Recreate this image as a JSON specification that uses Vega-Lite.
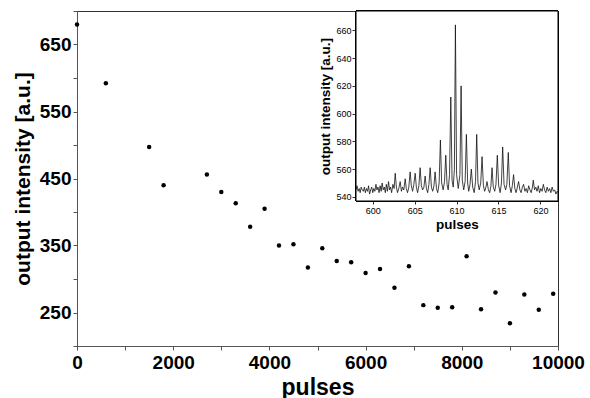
{
  "$schema": "https://vega.github.io/schema/vega-lite/v6.json",
  "width": 481,
  "height": 335,
  "autosize": {"type": "none"},
  "padding": {"left": 77, "top": 11, "right": 32, "bottom": 52},
  "background": "white",
  "config": {
    "view": {"stroke": "#333", "strokeWidth": 1},
    "font": "Liberation Sans"
  },
  "datasets": {
    "main": [
      {"pulses": 0, "intensity": 680},
      {"pulses": 600, "intensity": 592},
      {"pulses": 1500, "intensity": 497},
      {"pulses": 1800, "intensity": 440},
      {"pulses": 2700, "intensity": 456},
      {"pulses": 3000, "intensity": 430},
      {"pulses": 3300, "intensity": 413},
      {"pulses": 3600, "intensity": 378},
      {"pulses": 3900, "intensity": 405},
      {"pulses": 4200, "intensity": 350},
      {"pulses": 4500, "intensity": 352},
      {"pulses": 4800, "intensity": 317},
      {"pulses": 5100, "intensity": 346},
      {"pulses": 5400, "intensity": 327},
      {"pulses": 5700, "intensity": 325},
      {"pulses": 6000, "intensity": 309},
      {"pulses": 6300, "intensity": 315},
      {"pulses": 6600, "intensity": 287},
      {"pulses": 6900, "intensity": 319},
      {"pulses": 7200, "intensity": 261},
      {"pulses": 7500, "intensity": 257},
      {"pulses": 7800, "intensity": 258},
      {"pulses": 8100, "intensity": 334},
      {"pulses": 8400, "intensity": 255},
      {"pulses": 8700, "intensity": 280},
      {"pulses": 9000, "intensity": 234},
      {"pulses": 9300, "intensity": 277},
      {"pulses": 9600, "intensity": 254},
      {"pulses": 9900, "intensity": 278}
    ],
    "inset": [
      {"p": 598.0, "v": 545}, {"p": 598.12, "v": 548}, {"p": 598.25, "v": 544}, {"p": 598.38, "v": 546},
      {"p": 598.5, "v": 543}, {"p": 598.62, "v": 547}, {"p": 598.75, "v": 545}, {"p": 598.88, "v": 544},
      {"p": 599.0, "v": 547}, {"p": 599.12, "v": 543}, {"p": 599.25, "v": 546}, {"p": 599.38, "v": 544},
      {"p": 599.5, "v": 548}, {"p": 599.62, "v": 542}, {"p": 599.75, "v": 545}, {"p": 599.88, "v": 547},
      {"p": 600.0, "v": 543}, {"p": 600.12, "v": 546}, {"p": 600.25, "v": 544}, {"p": 600.38, "v": 549},
      {"p": 600.5, "v": 545}, {"p": 600.62, "v": 547}, {"p": 600.75, "v": 543}, {"p": 600.88, "v": 548},
      {"p": 601.0, "v": 544}, {"p": 601.12, "v": 550}, {"p": 601.25, "v": 545}, {"p": 601.38, "v": 547},
      {"p": 601.5, "v": 543}, {"p": 601.62, "v": 549}, {"p": 601.75, "v": 544}, {"p": 601.88, "v": 551},
      {"p": 602.0, "v": 545}, {"p": 602.12, "v": 547}, {"p": 602.25, "v": 543}, {"p": 602.4, "v": 549},
      {"p": 602.55, "v": 546}, {"p": 602.68, "v": 557}, {"p": 602.82, "v": 547}, {"p": 602.95, "v": 543},
      {"p": 603.1, "v": 546}, {"p": 603.27, "v": 551}, {"p": 603.42, "v": 544}, {"p": 603.55, "v": 547},
      {"p": 603.7, "v": 545}, {"p": 603.87, "v": 553}, {"p": 604.0, "v": 546}, {"p": 604.15, "v": 543},
      {"p": 604.3, "v": 547}, {"p": 604.46, "v": 558}, {"p": 604.6, "v": 548}, {"p": 604.75, "v": 544},
      {"p": 604.9, "v": 549}, {"p": 605.06, "v": 557}, {"p": 605.2, "v": 547}, {"p": 605.35, "v": 543},
      {"p": 605.5, "v": 548}, {"p": 605.65, "v": 561}, {"p": 605.8, "v": 548}, {"p": 605.95, "v": 545},
      {"p": 606.1, "v": 547}, {"p": 606.25, "v": 555}, {"p": 606.4, "v": 546}, {"p": 606.55, "v": 543},
      {"p": 606.7, "v": 549}, {"p": 606.85, "v": 561}, {"p": 607.0, "v": 547}, {"p": 607.15, "v": 544},
      {"p": 607.3, "v": 548}, {"p": 607.44, "v": 558}, {"p": 607.6, "v": 546}, {"p": 607.75, "v": 543},
      {"p": 607.92, "v": 550}, {"p": 608.07, "v": 581}, {"p": 608.22, "v": 550}, {"p": 608.4, "v": 545},
      {"p": 608.56, "v": 551}, {"p": 608.71, "v": 570}, {"p": 608.86, "v": 549}, {"p": 609.0, "v": 545},
      {"p": 609.16, "v": 556}, {"p": 609.31, "v": 612}, {"p": 609.46, "v": 552}, {"p": 609.6, "v": 547},
      {"p": 609.74, "v": 560}, {"p": 609.86, "v": 664}, {"p": 610.0, "v": 556}, {"p": 610.2, "v": 546},
      {"p": 610.4, "v": 556}, {"p": 610.54, "v": 620}, {"p": 610.68, "v": 552}, {"p": 610.85, "v": 545},
      {"p": 611.02, "v": 551}, {"p": 611.17, "v": 585}, {"p": 611.32, "v": 550}, {"p": 611.45, "v": 544},
      {"p": 611.6, "v": 549}, {"p": 611.76, "v": 560}, {"p": 611.92, "v": 547}, {"p": 612.1, "v": 543},
      {"p": 612.26, "v": 551}, {"p": 612.4, "v": 585}, {"p": 612.55, "v": 550}, {"p": 612.7, "v": 545},
      {"p": 612.88, "v": 550}, {"p": 613.04, "v": 569}, {"p": 613.2, "v": 548}, {"p": 613.35, "v": 544},
      {"p": 613.5, "v": 547}, {"p": 613.63, "v": 551}, {"p": 613.8, "v": 545}, {"p": 613.95, "v": 543},
      {"p": 614.1, "v": 548}, {"p": 614.23, "v": 561}, {"p": 614.38, "v": 547}, {"p": 614.55, "v": 544},
      {"p": 614.7, "v": 549}, {"p": 614.86, "v": 570}, {"p": 615.02, "v": 548}, {"p": 615.2, "v": 543},
      {"p": 615.35, "v": 550}, {"p": 615.5, "v": 576}, {"p": 615.66, "v": 549}, {"p": 615.85, "v": 545},
      {"p": 616.0, "v": 549}, {"p": 616.17, "v": 572}, {"p": 616.32, "v": 548}, {"p": 616.5, "v": 543},
      {"p": 616.65, "v": 548}, {"p": 616.8, "v": 556}, {"p": 616.95, "v": 546}, {"p": 617.1, "v": 543},
      {"p": 617.25, "v": 547}, {"p": 617.4, "v": 551}, {"p": 617.55, "v": 545}, {"p": 617.7, "v": 543},
      {"p": 617.85, "v": 547}, {"p": 618.0, "v": 549}, {"p": 618.15, "v": 544}, {"p": 618.3, "v": 546},
      {"p": 618.45, "v": 543}, {"p": 618.6, "v": 548}, {"p": 618.75, "v": 545}, {"p": 618.9, "v": 543},
      {"p": 619.05, "v": 547}, {"p": 619.15, "v": 552}, {"p": 619.3, "v": 545}, {"p": 619.45, "v": 547},
      {"p": 619.6, "v": 544}, {"p": 619.75, "v": 548}, {"p": 619.9, "v": 543}, {"p": 620.05, "v": 546},
      {"p": 620.2, "v": 544}, {"p": 620.35, "v": 549}, {"p": 620.5, "v": 545}, {"p": 620.65, "v": 543},
      {"p": 620.8, "v": 547}, {"p": 620.95, "v": 544}, {"p": 621.1, "v": 546}, {"p": 621.25, "v": 543},
      {"p": 621.4, "v": 547}, {"p": 621.55, "v": 544}, {"p": 621.7, "v": 545}, {"p": 621.85, "v": 542},
      {"p": 622.0, "v": 544}, {"p": 622.1, "v": 543}
    ]
  },
  "layer": [
    {
      "data": {"name": "main"},
      "mark": {"type": "point", "filled": true, "size": 20, "color": "black", "opacity": 1},
      "encoding": {
        "x": {
          "field": "pulses", "type": "quantitative",
          "scale": {"domain": [0, 10000], "nice": false},
          "axis": {
            "title": "pulses",
            "values": [0, 1000, 2000, 3000, 4000, 5000, 6000, 7000, 8000, 9000, 10000],
            "labelExpr": "datum.value % 2000 === 0 ? datum.value : ''",
            "grid": false, "tickSize": 4, "tickColor": "#555", "domainColor": "#555",
            "labelFontSize": 19, "labelFontWeight": "bold", "labelColor": "black", "labelPadding": 3,
            "labelFlush": false,
            "titleFontSize": 23, "titleFontWeight": "bold", "titleColor": "black", "titlePadding": 4
          }
        },
        "y": {
          "field": "intensity", "type": "quantitative",
          "scale": {"domain": [200, 700], "nice": false, "zero": false},
          "axis": {
            "title": "output intensity [a.u.]",
            "values": [200, 250, 300, 350, 400, 450, 500, 550, 600, 650, 700],
            "labelExpr": "(datum.value - 250) % 100 === 0 ? datum.value : ''",
            "grid": false, "tickSize": 4, "tickColor": "#555", "domainColor": "#555",
            "labelFontSize": 19, "labelFontWeight": "bold", "labelColor": "black", "labelPadding": 2,
            "labelFlush": false,
            "titleFontSize": 21, "titleFontWeight": "bold", "titleColor": "black", "titlePadding": 6
          }
        }
      }
    },
    {
      "data": {"name": "inset"},
      "layer": [
        {
          "mark": {"type": "rect", "fill": "white", "stroke": "black", "strokeWidth": 1},
          "encoding": {
            "x": {"datum": 598, "type": "quantitative"},
            "x2": {"datum": 622.1},
            "y": {"datum": 537, "type": "quantitative"},
            "y2": {"datum": 674}
          }
        },
        {
          "mark": {"type": "line", "color": "#111", "strokeWidth": 0.8},
          "encoding": {
            "x": {
              "field": "p", "type": "quantitative",
              "scale": {"domain": [598, 622.1], "range": [279, 481], "nice": false, "zero": false},
              "axis": {
                "title": "pulses", "orient": "bottom", "offset": -145,
                "values": [600, 605, 610, 615, 620],
                "grid": false, "tickSize": 3, "tickColor": "#333", "domainColor": "black",
                "labelFontSize": 9, "labelColor": "black", "labelPadding": 2, "labelFlush": false,
                "titleFontSize": 13.5, "titleFontWeight": "bold", "titleColor": "black", "titlePadding": 2
              }
            },
            "y": {
              "field": "v", "type": "quantitative",
              "scale": {"domain": [537, 674], "range": [190, 0], "nice": false, "zero": false},
              "axis": {
                "title": "output intensity [a.u.]", "orient": "left", "offset": -279,
                "values": [540, 560, 580, 600, 620, 640, 660],
                "grid": false, "tickSize": 4, "tickColor": "#333", "domainColor": "black",
                "labelFontSize": 9, "labelColor": "black", "labelPadding": 1, "labelFlush": false,
                "titleFontSize": 13.5, "titleFontWeight": "bold", "titleColor": "black", "titlePadding": 3
              }
            }
          }
        }
      ]
    }
  ],
  "resolve": {"scale": {"x": "independent", "y": "independent"}, "axis": {"x": "independent", "y": "independent"}}
}
